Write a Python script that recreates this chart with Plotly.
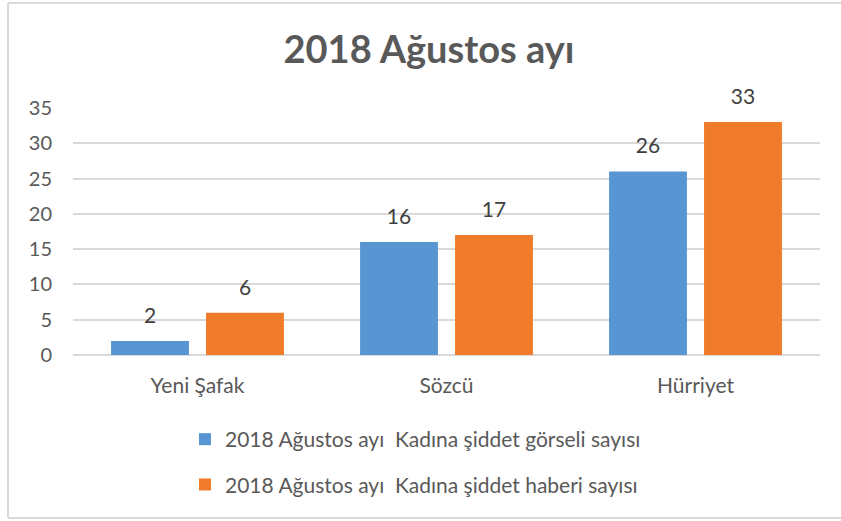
import plotly.graph_objects as go

categories = ["Yeni Şafak", "Sözcü", "Hürriyet"]
gorsel = [2, 16, 26]
haber = [6, 17, 33]
series_names = [
    "2018 Ağustos ayı\u00a0 Kadına şiddet görseli sayısı",
    "2018 Ağustos ayı\u00a0 Kadına şiddet haberi sayısı",
]
series_values = [gorsel, haber]
colors = ["#5896d3", "#ef7b2b"]
y_ticks = [0, 5, 10, 15, 20, 25, 30, 35]
title_text = "2018 Ağustos ayı"

FONT = "Lato"
fig = go.Figure()
for i, (name, vals, col) in enumerate(zip(series_names, series_values, colors)):
    fig.add_trace(go.Bar(
        x=categories, y=vals, name=name, marker_color=col,
        marker_line_width=0, legendgroup=f"g{i}", hoverinfo="skip",
    ))
for i, vals in enumerate(series_values):
    fig.add_trace(go.Scatter(
        x=categories, y=vals, mode="markers+text", text=[str(v) for v in vals],
        textposition="top center", marker=dict(size=19, opacity=0),
        textfont=dict(family=FONT, size=21, color="#404040"),
        showlegend=False, hoverinfo="skip", cliponaxis=False,
    ))

W, H = 841, 521
L, R, T, B = 73, 21, 108, 166
pw, ph = W - L - R, H - T - B

def px_x(p):
    return (p - L) / pw

def px_y(p):
    return (H - B - p) / ph

frame_line = dict(color="#d9d9d9", width=2)
frame = [
    dict(type="line", xref="paper", yref="paper", x0=px_x(8), x1=px_x(8),
         y0=px_y(518), y1=px_y(3), line=frame_line, layer="below"),
    dict(type="line", xref="paper", yref="paper", x0=px_x(8), x1=px_x(841),
         y0=px_y(3), y1=px_y(3), line=frame_line, layer="below"),
    dict(type="line", xref="paper", yref="paper", x0=px_x(8), x1=px_x(841),
         y0=px_y(518), y1=px_y(518), line=frame_line, layer="below"),
]

fig.update_layout(
    width=W, height=H,
    margin=dict(l=L, r=R, t=T, b=B, autoexpand=False),
    paper_bgcolor="white", plot_bgcolor="white",
    barmode="group", bargap=0.237, bargroupgap=0.18,
    scattermode="group", scattergap=0.237,
    font=dict(family=FONT, color="#595959"),
    title=dict(text=f"<b>{title_text}</b>", xref="container", yref="container",
               x=429 / W, y=1 - 50 / H, xanchor="center", yanchor="middle",
               font=dict(family=FONT, size=38, color="#595959")),
    xaxis=dict(showgrid=False, showline=False, zeroline=False, ticks="",
               tickfont=dict(family=FONT, size=21, color="#595959"),
               ticklabelstandoff=16),
    yaxis=dict(range=[0, 35], tickvals=y_ticks, showgrid=True, gridcolor="#d9d9d9",
               gridwidth=1.5, zeroline=True, zerolinecolor="#d9d9d9", zerolinewidth=1.5,
               showline=False, ticks="",
               tickfont=dict(family=FONT, size=20, color="#595959"),
               ticklabelstandoff=20),
    legend=dict(orientation="v", x=px_x(185), y=px_y(419), xanchor="left", yanchor="top",
                xref="paper", yref="paper", tracegroupgap=15,
                font=dict(family=FONT, size=21, color="#595959"),
                bgcolor="rgba(0,0,0,0)"),
    showlegend=True,
    shapes=frame,
)

fig.write_html("out.html", config={"displayModeBar": False},
               post_script="document.body.style.margin='0';")
